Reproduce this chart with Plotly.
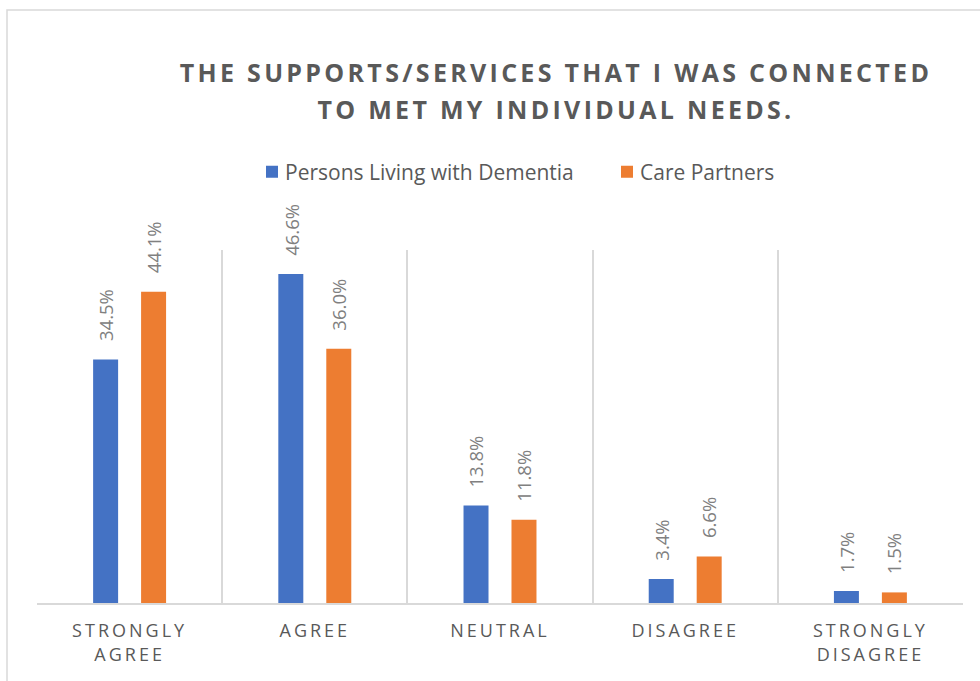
import plotly.graph_objects as go

categories = ["STRONGLY<br>AGREE", "AGREE", "NEUTRAL", "DISAGREE", "STRONGLY<br>DISAGREE"]
series_names = ["Persons Living with Dementia", "Care Partners"]
plwd_values = [34.5, 46.6, 13.8, 3.4, 1.7]
care_values = [44.1, 36.0, 11.8, 6.6, 1.5]

colors = ["#4472C4", "#ED7D31"]
W, H = 980, 681
L, R, T, B = 37, 17, 250, 78
plot_w = W - L - R
plot_h = H - T - B

fig = go.Figure()
for name, vals, col in zip(series_names, [plwd_values, care_values], colors):
    fig.add_trace(go.Bar(
        name=name, x=categories, y=vals, marker=dict(color=col, line=dict(width=0)),
    ))

# rotated value labels above each bar
for vals, shift in zip([plwd_values, care_values], [-24, 24]):
    for c, v in zip(categories, vals):
        fig.add_annotation(
            x=c, y=v, text=f"{v:.1f}%", showarrow=False, textangle=-90,
            xshift=shift, yshift=16, yanchor="bottom", xanchor="center",
            font=dict(family="Open Sans", size=18.5, color="#808080"),
        )

# chart frame
def px_x(p):
    return (p - L) / plot_w

def px_y(p):
    return (H - B - p) / plot_h

fig.add_shape(type="rect", xref="paper", yref="paper",
              x0=px_x(7), x1=px_x(995), y0=px_y(700), y1=px_y(10),
              line=dict(color="#d9d9d9", width=1.5), fillcolor="rgba(0,0,0,0)", layer="below")

fig.update_layout(
    width=W, height=H,
    margin=dict(l=L, r=R, t=T, b=B),
    paper_bgcolor="white", plot_bgcolor="white",
    barmode="group", bargap=0.482, bargroupgap=0.479,
    title=dict(
        text="THE SUPPORTS/SERVICES THAT I WAS CONNECTED<br>TO MET MY INDIVIDUAL NEEDS.",
        x=556 / W, xref="container", xanchor="center",
        y=1 - 81.5 / H, yref="container", yanchor="top",
        font=dict(family="Open Sans", size=25, color="#595959", weight="bold"),
    ),
    legend=dict(
        orientation="h", x=252 / W, xref="container", xanchor="left",
        y=1 - 172 / H, yref="container", yanchor="middle",
        font=dict(family="Open Sans", size=21, color="#595959"),
        itemwidth=30, entrywidth=310,
    ),
    font=dict(family="Open Sans", color="#595959"),
    xaxis=dict(
        showgrid=True, gridcolor="#d9d9d9", gridwidth=1.5, tickson="boundaries",
        ticks="", showline=True, linecolor="#d9d9d9", linewidth=1.5,
        tickfont=dict(family="Open Sans", size=18, color="#595959"),
        ticklabelstandoff=11,
    ),
    yaxis=dict(range=[0, 50], visible=False, showgrid=False, zeroline=False),
)

post = """
var gd = document.getElementById('{plot_id}');
function spacing() {
  gd.querySelectorAll('.gtitle').forEach(function(t){
    t.style.letterSpacing = '3.3px';
    var lines = t.querySelectorAll('tspan.line');
    for (var i = 1; i < lines.length; i++) { lines[i].setAttribute('dy', '37px'); }
  });
  gd.querySelectorAll('.xtick text').forEach(function(t){ t.style.letterSpacing = '3px'; });
  gd.querySelectorAll('.legendtext').forEach(function(t){ t.setAttribute('x', '33'); });
}
spacing();
gd.on('plotly_afterplot', spacing);
setTimeout(spacing, 50);
"""

fig.write_html("out.html", post_script=post)
